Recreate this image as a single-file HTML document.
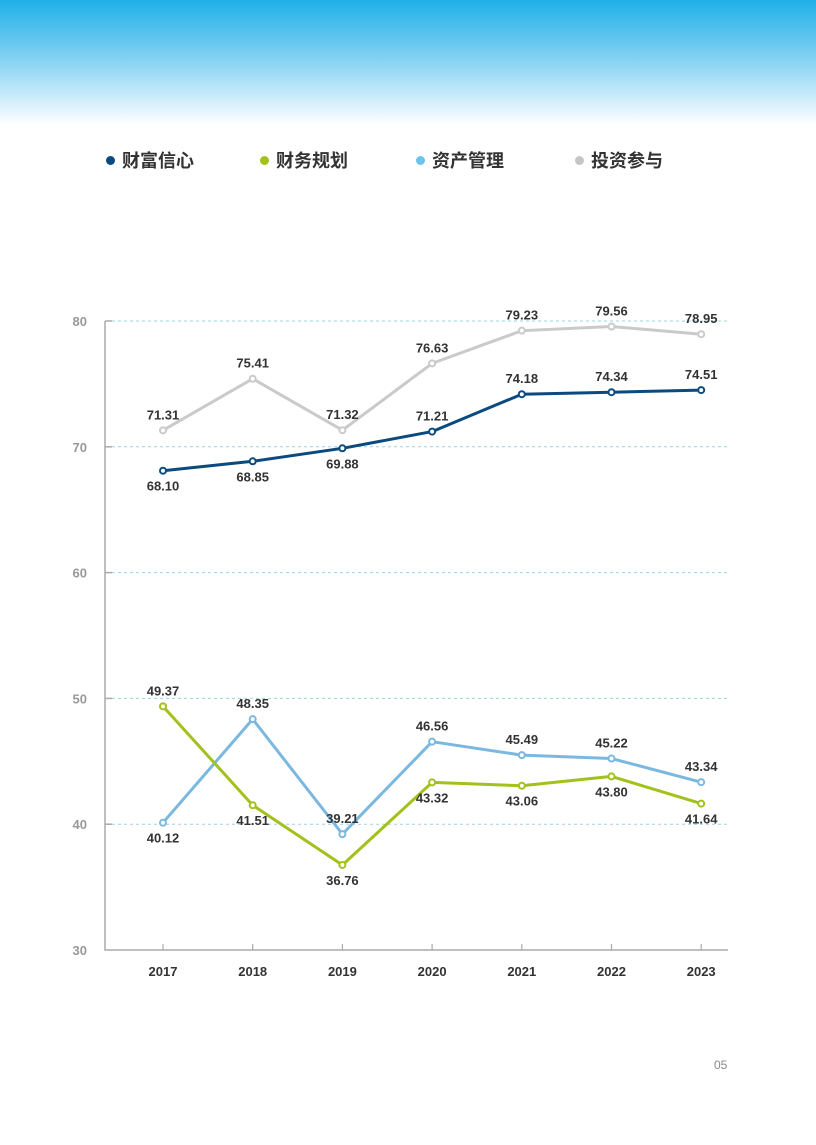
<!DOCTYPE html>
<html><head><meta charset="utf-8"><style>
body{margin:0;width:816px;height:1145px;background:#fff;position:relative;overflow:hidden;font-family:"Liberation Sans","Noto Sans CJK SC",sans-serif}
#hdr{position:absolute;left:0;top:0;width:816px;height:125px;background:linear-gradient(#1fb0e8 0%,#7fd0f2 45%,#ffffff 100%)}
.leg{position:absolute;top:147px;font-size:18px;font-weight:bold;color:#333;display:flex;align-items:center}
.leg i{display:inline-block;width:9px;height:9px;border-radius:50%;margin-right:7px}
#pg{position:absolute;left:714px;top:1058px;font-size:12px;color:#888}
</style></head><body>
<div id="hdr"></div>
<div class="leg" style="left:106px"><i style="background:#0a4a7f"></i>财富信心</div>
<div class="leg" style="left:260px"><i style="background:#a2c11c"></i>财务规划</div>
<div class="leg" style="left:416px"><i style="background:#6cc3ee"></i>资产管理</div>
<div class="leg" style="left:575px"><i style="background:#c6c6c6"></i>投资参与</div>
<svg id="chart" width="816" height="1145" style="position:absolute;left:0;top:0"></svg>
<div id="pg">05</div>
<script>
const years=["2017","2018","2019","2020","2021","2022","2023"];
const yTicks=[30,40,50,60,70,80];
const wealth=[68.10,68.85,69.88,71.21,74.18,74.34,74.51];
const planning=[49.37,41.51,36.76,43.32,43.06,43.80,41.64];
const asset=[40.12,48.35,39.21,46.56,45.49,45.22,43.34];
const invest=[71.31,75.41,71.32,76.63,79.23,79.56,78.95];
const wealthAbove=[false,false,false,true,true,true,true];
const planningAbove=[true,false,false,false,false,false,false];
const assetAbove=[false,true,true,true,true,true,true];
const investAbove=[true,true,true,true,true,true,true];
const svg=document.getElementById('chart');
const NS='http://www.w3.org/2000/svg';
const X=i=>163+i*89.7;
const Y=v=>950-(v-30)*12.58;
function mk(t,a){const e=document.createElementNS(NS,t);for(const k in a)e.setAttribute(k,a[k]);svg.appendChild(e);return e;}
yTicks.forEach(t=>{
  if(t>30){const g=mk('line',{x1:112,x2:728,y1:Y(t),y2:Y(t),stroke:'#9fd3e0','stroke-width':1,'stroke-dasharray':'3,3'});
  
  
  const tk=mk('line',{x1:105,x2:112,y1:Y(t),y2:Y(t),stroke:'#aaa','stroke-width':1.5});
  
  }
  const l=mk('text',{x:87,y:Y(t)+5,'text-anchor':'end','font-size':13,'font-weight':'bold',fill:'#999','font-family':'Liberation Sans'});
  l.textContent=t;
  
  
});
const ax=mk('path',{d:'M105 321V950H728',fill:'none',stroke:'#aaa','stroke-width':1.5});


years.forEach((y,i)=>{
  const tk=mk('line',{x1:X(i),x2:X(i),y1:944,y2:950,stroke:'#aaa','stroke-width':1.2});
  
  
  const l=mk('text',{x:X(i),y:976,'text-anchor':'middle','font-size':13,'font-weight':'bold',fill:'#333','font-family':'Liberation Sans'});
  l.textContent=y;
  
  
});
function series(vals,above,color,name){
  const p=mk('polyline',{points:vals.map((v,i)=>X(i)+','+Y(v)).join(' '),fill:'none',stroke:color,'stroke-width':3,'stroke-linejoin':'round'});
  
  
  vals.forEach((v,i)=>{
    const c=mk('circle',{cx:X(i),cy:Y(v),r:3,fill:'#fff',stroke:color,'stroke-width':2});
    
    
    const t=mk('text',{x:X(i),y:above[i]?Y(v)-11:Y(v)+20,'text-anchor':'middle','font-size':13,'font-weight':'bold',fill:'#333','font-family':'Liberation Sans'});
    t.textContent=v.toFixed(2);
    
    
  });
}
series(invest,investAbove,'#cacaca','investment');
series(wealth,wealthAbove,'#0a4a7f','wealth-confidence');
series(asset,assetAbove,'#7ab8e0','asset-management');
series(planning,planningAbove,'#a2c11c','financial-planning');
</script>
</body></html>
